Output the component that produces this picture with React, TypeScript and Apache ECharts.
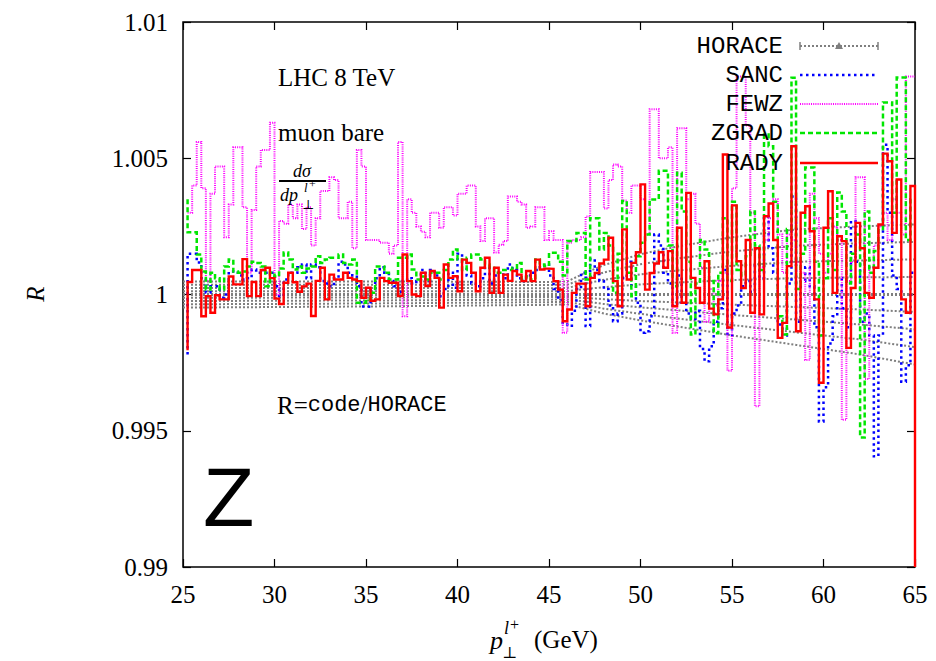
import React, { useEffect, useRef } from "react";
import * as echarts from "echarts";

// Histogram binning in p_T (GeV): 0.25 GeV bins from 25 to 65.
// Entry 0 of each series is the value where the step path starts (at the first inner edge).
const BIN_START = 25;
const BIN_WIDTH = 0.25;

const RADY = [
  0.99795, 1.00046, 1.0009, 1.0009, 0.9992, 0.99994, 0.99933, 0.99997, 0.99982, 0.99982,
  1.00066, 1.00037, 1.00037, 1.0013, 0.99994, 1.00046, 0.99994, 1.0009, 1.00098, 1.0006,
  0.99985, 0.99965, 1.00043, 1.0008, 1.00045, 1.0001, 1.0003, 1.0004, 0.99921, 1.0005,
  1.00098, 0.99982, 1.00073, 1.00055, 1.00055, 1.0008, 1.00061, 1.00055, 1.00049, 0.99988,
  1.00025, 0.99977, 0.99982, 1.00061, 1.00049, 1.00043, 1.00043, 0.99994, 1.00147, 1.00049,
  1.0, 0.99994, 1.0008, 1.00031, 1.00086, 1.00061, 0.99952, 1.0011, 1.00061, 1.00067,
  1.00012, 1.00128, 1.00116, 1.0008, 1.00012, 1.00098, 1.00135, 1.00006, 1.00098, 1.00006,
  1.00073, 1.0005, 1.00086, 1.00073, 1.00049, 1.00086, 1.00049, 1.00128, 1.00092, 1.00095,
  1.00094, 1.00049, 1.00018, 0.99902, 0.99945, 1.00006, 1.0004, 1.0004, 0.99957, 1.00061,
  1.00079, 1.00114, 1.00128, 1.00208, 1.00049, 0.99957, 1.00239, 1.00055, 1.00116, 1.00155,
  1.00404, 1.00018, 1.00079, 1.00114, 1.00155, 1.00098, 1.00159, 0.99957, 1.00245, 0.9997,
  1.00373, 1.00061, 1.00024, 0.9997, 1.00122, 0.99948, 0.99927, 0.99982, 1.00514, 0.99879,
  1.00327, 1.00122, 1.00024, 1.002, 0.99933, 1.0017, 0.99927, 1.00287, 1.00334, 1.002,
  0.99841, 0.99896, 1.00104, 1.00544, 0.99865, 1.003, 1.00324, 1.00232, 0.99982, 0.99676,
  1.00245, 1.00379, 1.00006, 1.00214, 1.00196, 0.99804, 1.00024, 1.00263, 1.0017, 1.00006,
  0.99988, 1.00098, 1.00257, 1.00517, 1.00489, 1.00226, 1.00422, 0.99982, 0.99933, 1.00398,
];
const RADY_END = 0.99;

const ZGRAD = [
  1.0035, 1.00228, 1.00228, 1.00147, 1.00084, 1.00018, 1.0008, 1.0006, 1.00018, 1.00103,
  1.00128, 1.00084, 1.0008, 1.00084, 1.00103, 1.0012, 1.00116, 1.00103, 1.0003, 1.0008,
  1.00066, 1.00095, 1.00154, 1.00128, 1.00092, 1.00103, 1.0008, 1.00095, 1.00103, 1.0014,
  1.00116, 1.00128, 1.00135, 1.00135, 1.00147, 1.00116, 1.0011, 1.00128, 0.9997, 0.9997,
  0.99982, 1.00006, 1.00103, 1.00103, 1.0008, 1.00055, 1.00055, 1.00135, 1.00135, 1.00147,
  1.00092, 1.00055, 1.00066, 1.00055, 1.0008, 1.0008, 1.00055, 1.0009, 1.00128, 1.00165,
  1.00128, 1.0009, 1.00135, 1.00147, 1.00147, 1.00128, 1.0011, 1.00098, 1.0008, 1.0008,
  1.0009, 1.0009, 1.00098, 1.00116, 1.00055, 1.00067, 1.00055, 1.00128, 1.0011, 1.00104,
  1.00153, 1.00153, 1.0012, 1.0007, 1.00196, 1.00196, 1.00226, 1.00226, 1.00055, 1.0028,
  1.0028, 1.00165, 1.00226, 1.0018, 1.00006, 1.0015, 1.00343, 1.0008, 0.99994, 1.0014,
  1.0019, 1.0022, 1.00349, 1.00349, 1.00454, 1.00454, 1.0018, 1.0003, 1.00447, 1.00305,
  1.0012, 0.99853, 1.0004, 1.002, 1.00165, 1.0005, 0.99858, 1.0008, 1.0028, 1.0005,
  1.0034, 1.0009, 1.0007, 1.0014, 1.00305, 1.0018, 1.0009, 1.00587, 1.00544, 1.0034,
  0.9992, 0.99853, 1.0024, 1.00795, 1.0002, 1.0015, 1.00466, 1.00466, 1.0012, 0.9985,
  1.0006, 1.0028, 1.0009, 1.00374, 1.00305, 1.0004, 1.0015, 1.0022, 0.99475, 1.00305,
  1.0008, 1.0016, 1.0024, 1.00705, 1.00705, 1.003, 1.00796, 1.00796, 1.002, 1.0035,
];

const SANC = [
  0.9978, 1.0015, 1.0015, 1.00117, 1.0006, 1.00007, 1.0003, 1.0003, 0.99988, 1.0,
  1.00084, 1.00084, 1.0007, 1.00055, 1.0006, 1.00092, 1.0008, 1.0009, 1.0008, 1.0008,
  1.0003, 0.99994, 1.00055, 1.0008, 1.0008, 1.001, 1.0011, 1.0006, 1.0011, 1.001,
  1.0005, 1.0004, 1.0003, 1.0006, 1.0012, 1.0011, 1.0008, 1.0007, 1.0003, 0.99956,
  0.99955, 1.0002, 1.0006, 1.001, 1.0008, 1.0005, 1.0003, 1.0001, 1.0005, 1.0006,
  1.0004, 1.0005, 1.0009, 1.0005, 1.0009, 1.0007, 0.99994, 1.0002, 1.0008, 1.00025,
  1.0015, 1.0012, 1.0007, 1.0004, 1.0003, 1.0006, 1.001, 1.0004, 1.0007, 1.0008,
  1.0006, 1.0011, 1.0009, 1.0006, 1.0005, 1.0007, 1.0008, 1.0009, 1.001, 1.0011,
  1.0007, 1.0002, 0.9998, 0.9989, 0.99885, 0.9994, 1.0002, 1.0008, 0.99884, 1.0013,
  1.0009, 1.0005, 1.0002, 0.9996, 0.99902, 0.9993, 1.0006, 1.0012, 1.0003, 0.9997,
  0.9986, 0.99865, 0.9992, 1.0022, 1.0018, 1.0008, 1.0004, 0.9996, 1.0007, 0.9997,
  0.9993, 0.9991, 0.9994, 0.998, 0.99755, 0.9981, 0.999, 0.9995, 1.0009, 0.9985,
  0.9993, 0.9996, 1.0003, 1.0005, 1.0001, 1.0011, 1.0006, 1.00286, 1.0017, 1.0008,
  0.9989, 0.9985, 1.0004, 1.0036, 0.999, 1.0005, 1.001, 1.0003, 0.9988, 0.99534,
  0.9966, 0.9982, 0.9992, 1.0006, 0.9995, 0.9988, 1.0027, 1.0012, 0.999, 0.9993,
  0.9985, 0.99406, 0.9985, 1.0055, 1.003, 1.0007, 1.0002, 0.9968, 0.9974, 1.0008,
];

const FEWZ = [
  1.003, 1.003, 1.004, 1.0056, 1.0039, 1.0005, 1.0037, 1.0047, 1.0047, 1.0021,
  1.0033, 1.0054, 1.0054, 1.0032, 1.0008, 1.0031, 1.0047, 1.0053, 1.0053, 1.0063,
  1.0, 1.0027, 1.0026, 1.0033, 1.0028, 1.0033, 1.0024, 1.0032, 1.0018, 1.0028,
  1.0038, 1.0038, 1.0043, 1.0042, 1.0028, 1.0028, 1.0034, 1.0017, 1.0053, 1.0047,
  1.002, 1.002, 1.002, 1.0019, 1.0019, 1.0015, 1.0018, 1.0056, 0.9992, 1.0035,
  1.003, 1.0025, 1.0023, 1.0021, 1.003, 1.003, 1.00245, 1.0032, 1.0032, 1.0029,
  1.0037, 1.0037, 1.004, 1.004, 1.0025, 1.00196, 1.0028, 1.0028, 1.00154, 1.00183,
  1.00196, 1.0036, 1.0036, 1.0034, 1.0033, 1.00245, 1.0025, 1.0032, 1.0032, 1.002,
  1.00232, 1.002, 1.002, 0.9986, 1.0019, 1.002, 1.002, 1.0021, 1.00286, 1.0045,
  1.0045, 1.0045, 1.00316, 1.0042, 1.00477, 1.0047, 1.00345, 1.003, 1.004, 1.004,
  1.0035, 1.0022, 1.0068, 1.0068, 1.005, 1.005, 1.0054, 0.9986, 1.0061, 1.0061,
  1.0035, 1.0037, 1.0026, 1.001, 0.999, 1.0002, 0.9996, 1.0005, 1.0008, 0.9972,
  1.0039, 1.008, 1.008, 1.0062, 1.003, 0.9959, 1.001, 1.002, 1.0028, 1.0035,
  1.0022, 1.0008, 1.0022, 1.002, 1.0012, 1.0008, 0.9976, 1.0037, 1.0028, 1.0015,
  1.0008, 1.0015, 1.0025, 1.002, 0.9954, 1.0005, 1.0012, 1.0043, 1.0043, 0.9969,
  1.001, 1.0018, 1.0025, 1.003, 1.002, 1.0035, 1.003, 1.0022, 1.008, 1.008,
];

// HORACE reference (R = 1) with its uncertainty curves, sampled along p_T.
const HORACE_X = [25, 35, 45, 46, 47, 48, 50, 52, 55, 58.5, 62, 65];
const HORACE_UP4 = [1.00048, 1.00048, 1.00046, 1.00048, 1.0008, 1.00108, 1.00148, 1.00176, 1.0021, 1.00239, 1.0025, 1.00257];
const HORACE_UP3 = [1.00036, 1.00036, 1.00035, 1.00036, 1.0006, 1.00081, 1.00111, 1.00132, 1.00158, 1.00179, 1.00188, 1.00193];
const HORACE_UP2 = [1.00024, 1.00024, 1.00023, 1.00024, 1.0004, 1.00054, 1.00074, 1.00088, 1.00105, 1.0012, 1.00125, 1.00129];
const HORACE_UP1 = [1.00012, 1.00012, 1.00012, 1.00012, 1.0002, 1.00027, 1.00037, 1.00044, 1.00053, 1.0006, 1.00063, 1.00064];
const HORACE_MID = [1, 1, 1, 1, 1, 1, 1, 1, 1, 1, 1, 1];
const HORACE_DN1 = [0.99988, 0.99989, 0.99991, 0.99991, 0.99987, 0.99983, 0.99976, 0.99971, 0.99963, 0.99954, 0.99945, 0.99936];
const HORACE_DN2 = [0.99976, 0.99978, 0.99981, 0.99982, 0.99974, 0.99965, 0.99953, 0.99942, 0.99925, 0.99908, 0.9989, 0.99872];
const HORACE_DN3 = [0.99964, 0.99967, 0.99972, 0.99973, 0.99961, 0.99948, 0.99929, 0.99912, 0.99888, 0.99861, 0.99835, 0.99807];
const HORACE_DN4 = [0.99952, 0.99956, 0.99962, 0.99964, 0.99948, 0.9993, 0.99905, 0.99883, 0.9985, 0.99815, 0.9978, 0.99743];

const X_MIN = 25;
const X_MAX = 65;
const X_STEP = 5;
const Y_MIN = 0.99;
const Y_MAX = 1.01;
const Y_STEP = 0.005;

const LEGEND = ["HORACE", "SANC", "FEWZ", "ZGRAD", "RADY"];

const SERIF = '"Liberation Serif", "DejaVu Serif", serif';
const MONO = '"Liberation Mono", "DejaVu Sans Mono", monospace';
const SANS = '"Liberation Sans", "DejaVu Sans", sans-serif';

const GRAY = "#7f7f7f";
const BLUE = "#0000ff";
const MAGENTA = "#ff00ff";
const GREEN = "#00e600";
const RED = "#ff0000";

const SANC_DASH = [2.5, 3.5];
const FEWZ_DASH = [1, 1.2];
const ZGRAD_DASH = [5, 3];

// Step path for a histogram: vertical start at the first inner edge, then flat bins.
function stepPath(values: number[], end?: number): [number, number][] {
  const pts: [number, number][] = [[BIN_START + BIN_WIDTH, values[0]]];
  for (let k = 1; k < values.length; k++) {
    const a = BIN_START + k * BIN_WIDTH;
    pts.push([a, values[k]], [a + BIN_WIDTH, values[k]]);
  }
  if (end !== undefined) pts.push([BIN_START + values.length * BIN_WIDTH, end]);
  return pts;
}

function curve(ys: number[]): [number, number][] {
  return HORACE_X.map((x, i) => [x, ys[i]] as [number, number]);
}

function lineSeries(data: [number, number][], color: string, width: number, type: any) {
  return {
    type: "line",
    data,
    showSymbol: false,
    symbol: "none",
    silent: true,
    animation: false,
    clip: true,
    lineStyle: { color, width, type, cap: "butt", join: "miter" },
  };
}

export default function App() {
  const ref = useRef<HTMLDivElement>(null);

  useEffect(() => {
    if (!ref.current) return;
    const chart = echarts.init(ref.current, null, { renderer: "svg" });

    const horaceCurves = [HORACE_UP4, HORACE_UP3, HORACE_UP2, HORACE_UP1, HORACE_DN1, HORACE_DN2, HORACE_DN3, HORACE_DN4];
    const series: any[] = [
      ...horaceCurves.map((c) => lineSeries(curve(c), GRAY, 2, [2, 2])),
      lineSeries(curve(HORACE_MID), GRAY, 3, [2, 2]),
      lineSeries(stepPath(SANC), BLUE, 2.5, SANC_DASH),
      lineSeries(stepPath(FEWZ), MAGENTA, 2, FEWZ_DASH),
      lineSeries(stepPath(ZGRAD), GREEN, 2.5, ZGRAD_DASH),
      lineSeries(stepPath(RADY, RADY_END), RED, 2.4, "solid"),
    ];

    const tickStyle = { show: true, inside: true, length: 8, lineStyle: { color: "#000", width: 1.2 } };
    const yFmt = (v: number) => String(Number(v.toFixed(4)));

    const legendY = [46, 75, 104, 133, 163];
    const lx1 = 800;
    const lx2 = 878;
    const T = (x: number, y: number, text: string, font: string, align = "left", extra: any = {}) => ({
      type: "text",
      z: 100,
      x,
      y,
      ...extra,
      style: { text, font, fill: "#000", align, verticalAlign: "middle" },
    });
    const keyLine = (y: number, stroke: string, lineWidth: number, lineDash?: number[]) => ({
      type: "line",
      z: 100,
      shape: { x1: lx1, y1: y, x2: lx2, y2: y },
      style: { stroke, lineWidth, lineDash },
    });

    const graphic: any[] = [
      T(278, 77, "LHC 8 TeV", `25px ${SERIF}`),
      T(278, 132, "muon bare", `25px ${SERIF}`),
      // dσ / dp_⊥^{l+}
      T(302, 171, "dσ", `italic 18px ${SERIF}`, "center"),
      { type: "line", z: 100, shape: { x1: 279, y1: 181, x2: 326, y2: 181 }, style: { stroke: "#000", lineWidth: 2 } },
      T(280, 195, "dp", `italic 18px ${SERIF}`),
      T(304, 187, "l", `italic 13px ${SERIF}`),
      T(309, 184, "+", `12px ${SERIF}`),
      T(302, 204, "⊥", `13px ${SERIF}`),
      {
        type: "text",
        z: 100,
        x: 277,
        y: 405,
        style: {
          text: "{s|R=}{m|code}{s|/}{m|HORACE}",
          verticalAlign: "middle",
          rich: {
            s: { font: `25px ${SERIF}`, fill: "#000" },
            m: { font: `22px ${MONO}`, fill: "#000" },
          },
        },
      },
      T(203, 497, "Z", `84px ${SANS}`),
      // axis titles
      T(35, 294, "R", `italic 25px ${SERIF}`, "center", { rotation: Math.PI / 2 }),
      T(490, 640, "p", `italic 26px ${SERIF}`),
      T(504, 628, "l", `italic 18px ${SERIF}`),
      T(510, 624, "+", `16px ${SERIF}`),
      T(502, 652, "⊥", `16px ${SERIF}`),
      T(534, 639, "(GeV)", `25px ${SERIF}`),
      // key
      ...LEGEND.map((name, i) => T(783, legendY[i], name, `24px ${MONO}`, "right")),
      keyLine(legendY[0], GRAY, 2, [2, 2]),
      { type: "line", z: 100, shape: { x1: lx1, y1: legendY[0] - 4, x2: lx1, y2: legendY[0] + 4 }, style: { stroke: GRAY, lineWidth: 1.5 } },
      { type: "line", z: 100, shape: { x1: lx2, y1: legendY[0] - 4, x2: lx2, y2: legendY[0] + 4 }, style: { stroke: GRAY, lineWidth: 1.5 } },
      { type: "polygon", z: 100, shape: { points: [[835, legendY[0] + 3], [839, legendY[0] - 4], [843, legendY[0] + 3]] }, style: { fill: GRAY } },
      keyLine(legendY[1], BLUE, 2.5, SANC_DASH),
      keyLine(legendY[2], MAGENTA, 2, FEWZ_DASH),
      keyLine(legendY[3], GREEN, 2.5, ZGRAD_DASH),
      keyLine(legendY[4], RED, 2.4),
    ];

    chart.setOption({
      animation: false,
      backgroundColor: "#fff",
      grid: {
        left: 183,
        right: 21,
        top: 22,
        bottom: 94,
        containLabel: false,
        outerBoundsMode: "none",
        show: true,
        borderColor: "#000",
        borderWidth: 1.5,
        backgroundColor: "transparent",
      },
      xAxis: [
        {
          type: "value",
          min: X_MIN,
          max: X_MAX,
          interval: X_STEP,
          position: "bottom",
          axisLine: { show: false },
          axisTick: tickStyle,
          splitLine: { show: false },
          axisLabel: { margin: 15, fontFamily: SERIF, fontSize: 25, color: "#000" },
        },
        {
          type: "value",
          min: X_MIN,
          max: X_MAX,
          interval: X_STEP,
          position: "top",
          axisLine: { show: false },
          axisTick: tickStyle,
          splitLine: { show: false },
          axisLabel: { show: false },
        },
      ],
      yAxis: [
        {
          type: "value",
          min: Y_MIN,
          max: Y_MAX,
          interval: Y_STEP,
          position: "left",
          axisLine: { show: false },
          axisTick: tickStyle,
          splitLine: { show: false },
          axisLabel: { margin: 15, fontFamily: SERIF, fontSize: 25, color: "#000", formatter: yFmt },
        },
        {
          type: "value",
          min: Y_MIN,
          max: Y_MAX,
          interval: Y_STEP,
          position: "right",
          axisLine: { show: false },
          axisTick: tickStyle,
          splitLine: { show: false },
          axisLabel: { show: false },
        },
      ],
      series,
      graphic,
    });

    return () => chart.dispose();
  }, []);

  return (
    <div
      ref={ref}
      style={{ position: "fixed", left: 0, top: 0, width: 936, height: 661, background: "#fff" }}
    />
  );
}
